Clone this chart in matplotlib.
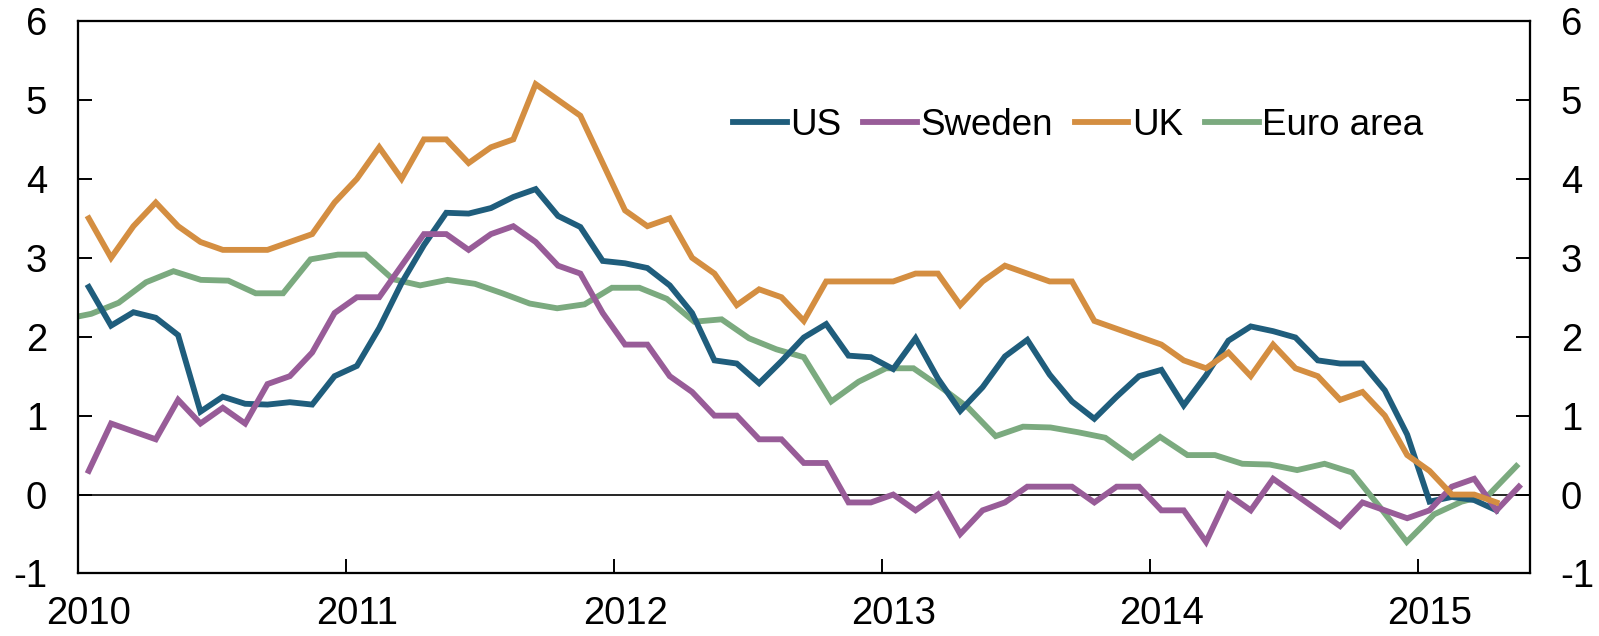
"""Consumer price inflation: US, Sweden, UK and euro area, 2010-2015."""
import matplotlib
matplotlib.use("Agg")
import matplotlib.pyplot as plt
import numpy as np
import pandas as pd

plt.rcParams["font.family"] = ["Liberation Sans", "DejaVu Sans"]

# monthly axis: Jan 2010 .. May 2015
months = pd.period_range("2010-01", "2015-05", freq="M")

# percent, twelve-month change
us = [2.63, 2.14, 2.31, 2.24, 2.02, 1.05, 1.24, 1.15, 1.14, 1.17, 1.14, 1.50,
      1.63, 2.11, 2.68, 3.16, 3.57, 3.56, 3.63, 3.77, 3.87, 3.53, 3.39, 2.96,
      2.93, 2.87, 2.65, 2.30, 1.70, 1.66, 1.41, 1.69, 1.99, 2.16, 1.76, 1.74,
      1.59, 1.98, 1.47, 1.06, 1.36, 1.75, 1.96, 1.52, 1.18, 0.96, 1.24, 1.50,
      1.58, 1.13, 1.51, 1.95, 2.13, 2.07, 1.99, 1.70, 1.66, 1.66, 1.32, 0.76,
      -0.09, -0.03, -0.07, -0.20]
sweden = [0.3, 0.9, 0.8, 0.7, 1.2, 0.9, 1.1, 0.9, 1.4, 1.5, 1.8, 2.3,
          2.5, 2.5, 2.9, 3.3, 3.3, 3.1, 3.3, 3.4, 3.2, 2.9, 2.8, 2.3,
          1.9, 1.9, 1.5, 1.3, 1.0, 1.0, 0.7, 0.7, 0.4, 0.4, -0.1, -0.1,
          0.0, -0.2, 0.0, -0.5, -0.2, -0.1, 0.1, 0.1, 0.1, -0.1, 0.1, 0.1,
          -0.2, -0.2, -0.6, 0.0, -0.2, 0.2, 0.0, -0.2, -0.4, -0.1, -0.2, -0.3,
          -0.2, 0.1, 0.2, -0.2, 0.1]
uk = [3.5, 3.0, 3.4, 3.7, 3.4, 3.2, 3.1, 3.1, 3.1, 3.2, 3.3, 3.7,
      4.0, 4.4, 4.0, 4.5, 4.5, 4.2, 4.4, 4.5, 5.2, 5.0, 4.8, 4.2,
      3.6, 3.4, 3.5, 3.0, 2.8, 2.4, 2.6, 2.5, 2.2, 2.7, 2.7, 2.7,
      2.7, 2.8, 2.8, 2.4, 2.7, 2.9, 2.8, 2.7, 2.7, 2.2, 2.1, 2.0,
      1.9, 1.7, 1.6, 1.8, 1.5, 1.9, 1.6, 1.5, 1.2, 1.3, 1.0, 0.5,
      0.3, 0.0, 0.0, -0.1]

# euro area series (Dec 2010 .. May 2015) sits on its own category axis
euro_months = pd.period_range("2010-12", "2015-05", freq="M")
euro = [2.22,
        2.29, 2.43, 2.69, 2.83, 2.72, 2.71, 2.55, 2.55, 2.98, 3.04, 3.04, 2.73,
        2.65, 2.72, 2.67, 2.55, 2.42, 2.36, 2.41, 2.62, 2.62, 2.48, 2.19, 2.22,
        1.98, 1.84, 1.74, 1.18, 1.43, 1.60, 1.60, 1.36, 1.10, 0.74, 0.86, 0.85,
        0.79, 0.72, 0.47, 0.73, 0.50, 0.50, 0.39, 0.38, 0.31, 0.39, 0.28, -0.15,
        -0.60, -0.25, -0.09, 0.00, 0.36]

series = [("US", us, "#1F5D7C"), ("Sweden", sweden, "#985C98"), ("UK", uk, "#D48E41")]
euro_color = "#7BAA7F"

y_ticks = [-1, 0, 1, 2, 3, 4, 5, 6]
FS = 27.5
LW = 4.2

fig = plt.figure(figsize=(15.99, 6.36), dpi=100)
ax = fig.add_axes([0.0485, 0.0983, 0.9084, 0.8687])
ax_eu = ax.twiny()
ax_r = ax.twinx()

ax.set_zorder(2)
ax_eu.set_zorder(1)
ax_r.set_zorder(3)
ax.patch.set_visible(False)

x = np.arange(len(months))
handles = []
for name, vals, col in series:
    (h,) = ax.plot(x[:len(vals)], vals, color=col, lw=LW, label=name,
                   solid_joinstyle="miter")
    handles.append(h)

x_eu = np.arange(len(euro_months)) - 1
ax_eu.axhline(0, color="black", lw=1.2, zorder=0)
(h_eu,) = ax_eu.plot(x_eu, euro, color=euro_color, lw=LW, label="Euro area",
                     solid_joinstyle="miter")
handles.append(h_eu)
ax_eu.set_xlim(-0.5, len(euro_months) - 1.5)
ax_eu.set_xticks([])

ax.set_xlim(-0.5, len(months) - 0.5)
for a in (ax, ax_r):
    a.set_ylim(-1, 6)
    a.set_yticks(y_ticks)
    a.set_yticklabels([str(t) for t in y_ticks])
ax.tick_params(axis="y", direction="in", length=10, width=1.4, pad=22,
               labelsize=FS, right=False)
ax_r.tick_params(axis="y", direction="in", length=10, width=1.4, pad=22,
                 labelsize=FS)

# year boundaries get the tick marks, labels sit under January
jan = [i for i, m in enumerate(months) if m.month == 1]
ax.set_xticks([i - 0.5 for i in jan[1:]])
ax.set_xticklabels([])
ax.set_xticks(jan, minor=True)
ax.set_xticklabels([str(months[i].year) for i in jan], minor=True)
ax.tick_params(axis="x", which="major", direction="in", length=10, width=1.4,
               top=False)
ax.tick_params(axis="x", which="minor", length=0, pad=16, labelsize=FS,
               top=False)

for a in (ax, ax_eu, ax_r):
    for s in a.spines.values():
        s.set_linewidth(1.5)

fig.legend(handles, [h.get_label() for h in handles], loc="center",
           bbox_to_anchor=(0.6744, 0.803), ncol=4, frameon=False,
           fontsize=26.5, handlelength=1.45, handletextpad=0.1,
           columnspacing=0.6, borderpad=0, borderaxespad=0)

fig.savefig("out.png", dpi=100, facecolor="white")
